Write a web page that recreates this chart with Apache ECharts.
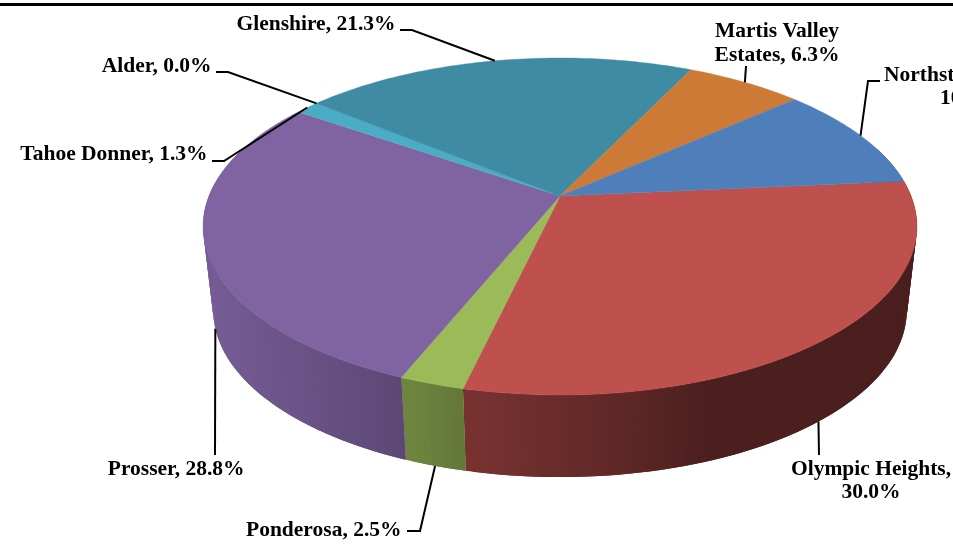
<!DOCTYPE html>
<html>
<head>
<meta charset="utf-8">
<style>html,body{margin:0;padding:0;background:#fff;overflow:hidden}#c{width:953px;height:544px}</style>
<script src="https://cdn.jsdelivr.net/npm/echarts@6/dist/echarts.min.js"></script>
</head>
<body>
<div id="c"></div>
<script>
// ---- data ----
const sliceNames = ['Olympic Heights', 'Ponderosa', 'Prosser', 'Tahoe Donner', 'Alder', 'Glenshire', 'Martis Valley Estates', 'Northstar'];
const sliceValues = [30.0, 2.5, 28.8, 1.3, 0.0, 21.3, 6.3, 10.0];

// ---- styles ----
const sliceColors = ['#BE504D', '#9BBB59', '#8064A2', '#4BACC6', '#4BACC6', '#3E8BA3', '#CC7A36', '#4F7FBB'];
const shadeStops = [[205, 0.93], [300, 0.83], [400, 0.72], [470, 0.625], [600, 0.51], [700, 0.39], [920, 0.39]];
const labelFont = 'bold 21.5px "Liberation Serif", "Times New Roman", serif';

// ---- perspective projection of the pie disc ----
const START_DEG = 5.2, K = 0.181, WARP = 0.6;
const TOP = {cx: 560, cy: 196, a: 351, b: 163};
const BASE = {cx: 560, cy: 280.5, a: 341, b: 161};
function project(disc, deg) {
  const r0 = deg * Math.PI / 180;
  const r = (deg + WARP * Math.sin(r0)) * Math.PI / 180;
  const u = Math.cos(r), v = Math.sin(r), w = 1 + K * v;
  return [disc.cx + disc.a * u / w, disc.cy - disc.b * v / w];
}
function sliceAngles(i) {
  const total = sliceValues.reduce((s, x) => s + x, 0);
  let before = 0;
  for (let j = 0; j < i; j++) before += sliceValues[j];
  const from = START_DEG - before / total * 360;
  const to = from - sliceValues[i] / total * 360;
  return [from, to];
}
function shade(hex, x) {
  let f = shadeStops[shadeStops.length - 1][1];
  for (let i = 1; i < shadeStops.length; i++) {
    if (x <= shadeStops[i][0]) {
      const a = shadeStops[i - 1], b = shadeStops[i];
      f = a[1] + (b[1] - a[1]) * Math.max(0, x - a[0]) / (b[0] - a[0]);
      break;
    }
  }
  const n = parseInt(hex.slice(1), 16);
  return 'rgb(' + [(n >> 16) & 255, (n >> 8) & 255, n & 255].map(c => Math.round(c * f)).join(',') + ')';
}

// Side wall: narrow strips, each overlapping the one before it so no seams show.
function renderSide(params, api) {
  const i = api.value(0), [from, to] = sliceAngles(i), children = [];
  const stepCount = Math.ceil(from - to);
  for (let s = 0; s < stepCount; s++) {
    const d0 = from - (from - to) * s / stepCount;
    const d1 = from - (from - to) * (s + 1) / stepCount;
    if (Math.sin((d0 + d1) / 2 * Math.PI / 180) > 0.3) continue;
    const back = Math.min(from, d0 + 1);
    const pts = [project(TOP, back), project(TOP, d1), project(BASE, d1), project(BASE, back)];
    const col = shade(sliceColors[i], (project(BASE, d0)[0] + project(BASE, d1)[0]) / 2);
    children.push({type: 'polygon', shape: {points: pts}, style: {fill: col}});
  }
  return {type: 'group', children};
}
function renderTop(params, api) {
  const i = api.value(0), [from, to] = sliceAngles(i);
  const pts = [[TOP.cx, TOP.cy]], n = Math.max(2, Math.ceil(from - to));
  for (let s = 0; s <= n; s++) pts.push(project(TOP, from - (from - to) * s / n));
  return {type: 'polygon', shape: {points: pts},
    style: {fill: sliceColors[i], stroke: sliceColors[i], lineWidth: 0.4}};
}

// ---- label layout: text anchor, leader path from the label to the slice's mid angle ----
const labelLayout = [
  {disc: BASE, via: [[819, 455]], lines: [['Olympic Heights,', 871, 469, 'center'], ['{v}', 871, 492, 'center']]},
  {disc: BASE, via: [[407, 531], [420, 531]], lines: [['Ponderosa, {v}', 401.5, 530, 'right']]},
  {disc: BASE, via: [[215, 455]], lines: [['Prosser, {v}', 244.5, 469, 'right']]},
  {disc: TOP, via: [[212, 161], [224, 161]], lines: [['Tahoe Donner, {v}', 207.5, 154, 'right']]},
  {disc: TOP, via: [[216, 72], [228, 72]], lines: [['Alder, {v}', 211.5, 66, 'right']]},
  {disc: TOP, via: [[400, 30], [412, 30]], lines: [['Glenshire, {v}', 395.5, 24, 'right']]},
  {disc: TOP, via: [[746, 66]], lines: [['Martis Valley', 777, 31, 'center'], ['Estates, {v}', 777, 55, 'center']]},
  {disc: TOP, via: [[880, 81], [868, 81]], lines: [['Northstar,', 884, 75, 'left'], ['{v}', 940, 98, 'left']]}
];
function renderLabel(params, api) {
  const i = api.value(0), [from, to] = sliceAngles(i), lay = labelLayout[i];
  const anchor = project(lay.disc, (from + to) / 2);
  const children = [{type: 'polyline', shape: {points: lay.via.concat([anchor])},
    style: {fill: null, stroke: '#000', lineWidth: 2}}];
  lay.lines.forEach(l => children.push({type: 'text',
    style: {text: l[0].replace('{v}', sliceValues[i].toFixed(1) + '%'), x: l[1], y: l[2],
      align: l[3], verticalAlign: 'middle', font: labelFont, fill: '#000'}}));
  return {type: 'group', children};
}

const rows = sliceValues.map((v, i) => [i, v]);
const chart = echarts.init(document.getElementById('c'), null, {renderer: 'canvas'});
chart.setOption({
  animation: false,
  backgroundColor: '#fff',
  graphic: [{type: 'rect', shape: {x: 0, y: 3, width: 953, height: 3}, style: {fill: '#000'}, z: 10}],
  series: [
    {type: 'custom', coordinateSystem: 'none', data: rows, renderItem: renderSide, z: 1, silent: true},
    {type: 'custom', coordinateSystem: 'none', data: rows, renderItem: renderTop, z: 2, silent: true},
    {type: 'custom', coordinateSystem: 'none', data: rows, renderItem: renderLabel, z: 3, silent: true}
  ]
});
</script>
</body>
</html>
